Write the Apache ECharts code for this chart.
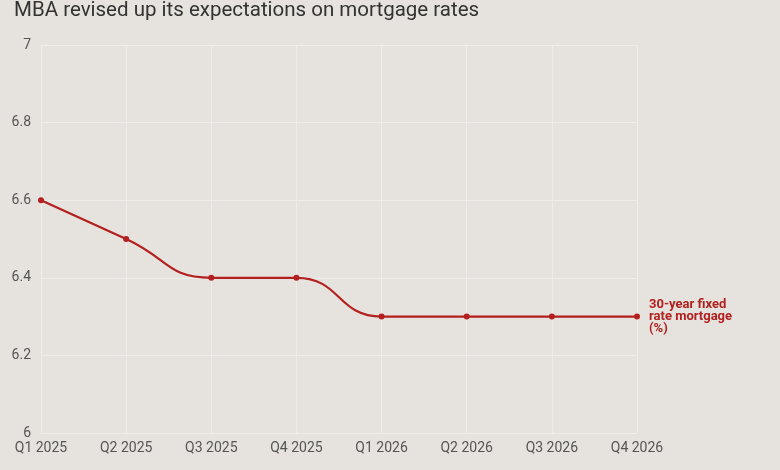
<!DOCTYPE html>
<html><head><meta charset="utf-8">
<script src="https://cdn.jsdelivr.net/npm/echarts@6/dist/echarts.min.js"></script>
<style>html,body{margin:0;padding:0;background:#e6e2dd;}#c{width:780px;height:470px;}</style>
</head><body><div id="c"></div>
<script>
const categories = ['Q1 2025','Q2 2025','Q3 2025','Q4 2025','Q1 2026','Q2 2026','Q3 2026','Q4 2026'];
const rates = [6.6, 6.5, 6.4, 6.4, 6.3, 6.3, 6.3, 6.3];
const seriesName = '30-year fixed\nrate mortgage\n(%)';
const chart = echarts.init(document.getElementById('c'));
chart.setOption({
  backgroundColor: '#e6e2dd',
  animation: false,
  title: {
    text: 'MBA revised up its expectations on mortgage rates',
    left: 9, top: -5,
    textStyle: {fontFamily: 'Roboto', fontSize: 20.5, fontWeight: 'normal', color: '#333'}
  },
  grid: {left: 41, right: 143, top: 45, bottom: 37},
  xAxis: {
    type: 'category', data: categories, boundaryGap: false,
    axisLine: {show: false}, axisTick: {show: false},
    axisLabel: {color: '#555', fontFamily: 'Roboto', fontSize: 14, margin: 8},
    splitLine: {show: true, lineStyle: {color: '#efede9', width: 1}}
  },
  yAxis: {
    type: 'value', min: 6, max: 7, interval: 0.2,
    axisLine: {show: false}, axisTick: {show: false},
    axisLabel: {color: '#555', fontFamily: 'Roboto', fontSize: 14, margin: 10},
    splitLine: {show: true, lineStyle: {color: '#efede9', width: 1}}
  },
  series: [{
    name: seriesName, type: 'line', data: rates,
    smooth: 0.5,
    symbol: 'circle', symbolSize: 6,
    lineStyle: {color: '#b3201f', width: 2.2},
    itemStyle: {color: '#b3201f'},
    endLabel: {
      show: true, formatter: seriesName, distance: 12,
      color: '#b3201f', fontFamily: 'Roboto', fontWeight: 'bold', fontSize: 13, lineHeight: 12
    }
  }]
});
</script></body></html>
